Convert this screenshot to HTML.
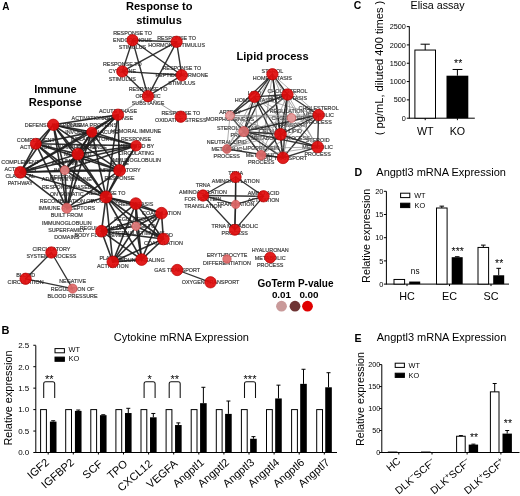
<!DOCTYPE html>
<html><head><meta charset="utf-8"><style>
html,body{margin:0;padding:0;background:#fff;}
svg{display:block;font-family:"Liberation Sans", sans-serif;filter:blur(0.35px);}
</style></head><body>
<svg width="520" height="496" viewBox="0 0 520 496">
<rect width="520" height="496" fill="#fff"/>
<text x="132.50" y="35.00" font-size="5.4" text-anchor="middle" font-weight="normal" fill="#333" stroke="#444" stroke-width="0.18">RESPONSE TO</text>
<text x="132.50" y="42.20" font-size="5.4" text-anchor="middle" font-weight="normal" fill="#333" stroke="#444" stroke-width="0.18">ENDOGENOUS</text>
<text x="132.50" y="49.40" font-size="5.4" text-anchor="middle" font-weight="normal" fill="#333" stroke="#444" stroke-width="0.18">STIMULUS</text>
<text x="176.60" y="40.20" font-size="5.4" text-anchor="middle" font-weight="normal" fill="#333" stroke="#444" stroke-width="0.18">RESPONSE TO</text>
<text x="176.60" y="47.40" font-size="5.4" text-anchor="middle" font-weight="normal" fill="#333" stroke="#444" stroke-width="0.18">HORMONE STIMULUS</text>
<text x="122.30" y="66.20" font-size="5.4" text-anchor="middle" font-weight="normal" fill="#333" stroke="#444" stroke-width="0.18">RESPONSE TO</text>
<text x="122.30" y="73.40" font-size="5.4" text-anchor="middle" font-weight="normal" fill="#333" stroke="#444" stroke-width="0.18">CYTOKINE</text>
<text x="122.30" y="80.60" font-size="5.4" text-anchor="middle" font-weight="normal" fill="#333" stroke="#444" stroke-width="0.18">STIMULUS</text>
<text x="181.80" y="70.10" font-size="5.4" text-anchor="middle" font-weight="normal" fill="#333" stroke="#444" stroke-width="0.18">RESPONSE TO</text>
<text x="181.80" y="77.30" font-size="5.4" text-anchor="middle" font-weight="normal" fill="#333" stroke="#444" stroke-width="0.18">PEPTIDE HORMONE</text>
<text x="181.80" y="84.50" font-size="5.4" text-anchor="middle" font-weight="normal" fill="#333" stroke="#444" stroke-width="0.18">STIMULUS</text>
<text x="148.00" y="91.00" font-size="5.4" text-anchor="middle" font-weight="normal" fill="#333" stroke="#444" stroke-width="0.18">RESPONSE TO</text>
<text x="148.00" y="98.20" font-size="5.4" text-anchor="middle" font-weight="normal" fill="#333" stroke="#444" stroke-width="0.18">ORGANIC</text>
<text x="148.00" y="105.40" font-size="5.4" text-anchor="middle" font-weight="normal" fill="#333" stroke="#444" stroke-width="0.18">SUBSTANCE</text>
<text x="180.80" y="115.10" font-size="5.4" text-anchor="middle" font-weight="normal" fill="#333" stroke="#444" stroke-width="0.18">RESPONSE TO</text>
<text x="180.80" y="122.30" font-size="5.4" text-anchor="middle" font-weight="normal" fill="#333" stroke="#444" stroke-width="0.18">OXIDATIVE STRESS</text>
<text x="118.00" y="113.10" font-size="5.4" text-anchor="middle" font-weight="normal" fill="#333" stroke="#444" stroke-width="0.18">ACUTE PHASE</text>
<text x="118.00" y="120.30" font-size="5.4" text-anchor="middle" font-weight="normal" fill="#333" stroke="#444" stroke-width="0.18">RESPONSE</text>
<text x="53.30" y="126.80" font-size="5.4" text-anchor="middle" font-weight="normal" fill="#333" stroke="#444" stroke-width="0.18">DEFENSE RESPONSE</text>
<text x="91.80" y="119.70" font-size="5.4" text-anchor="middle" font-weight="normal" fill="#333" stroke="#444" stroke-width="0.18">ACTIVATION OF</text>
<text x="91.80" y="126.90" font-size="5.4" text-anchor="middle" font-weight="normal" fill="#333" stroke="#444" stroke-width="0.18">PLASMA PROTEINS</text>
<text x="91.80" y="134.10" font-size="5.4" text-anchor="middle" font-weight="normal" fill="#333" stroke="#444" stroke-width="0.18">INVOLVED IN ACUTE</text>
<text x="91.80" y="141.30" font-size="5.4" text-anchor="middle" font-weight="normal" fill="#333" stroke="#444" stroke-width="0.18">INFLAMMATORY</text>
<text x="91.80" y="148.50" font-size="5.4" text-anchor="middle" font-weight="normal" fill="#333" stroke="#444" stroke-width="0.18">RESPONSE</text>
<text x="136.10" y="133.30" font-size="5.4" text-anchor="middle" font-weight="normal" fill="#333" stroke="#444" stroke-width="0.18">HUMORAL IMMUNE</text>
<text x="136.10" y="140.50" font-size="5.4" text-anchor="middle" font-weight="normal" fill="#333" stroke="#444" stroke-width="0.18">RESPONSE</text>
<text x="136.10" y="147.70" font-size="5.4" text-anchor="middle" font-weight="normal" fill="#333" stroke="#444" stroke-width="0.18">MEDIATED BY</text>
<text x="136.10" y="154.90" font-size="5.4" text-anchor="middle" font-weight="normal" fill="#333" stroke="#444" stroke-width="0.18">CIRCULATING</text>
<text x="136.10" y="162.10" font-size="5.4" text-anchor="middle" font-weight="normal" fill="#333" stroke="#444" stroke-width="0.18">IMMUNOGLOBULIN</text>
<text x="35.80" y="142.20" font-size="5.4" text-anchor="middle" font-weight="normal" fill="#333" stroke="#444" stroke-width="0.18">COMPLEMENT</text>
<text x="35.80" y="149.40" font-size="5.4" text-anchor="middle" font-weight="normal" fill="#333" stroke="#444" stroke-width="0.18">ACTIVATION</text>
<text x="77.80" y="148.90" font-size="5.4" text-anchor="middle" font-weight="normal" fill="#333" stroke="#444" stroke-width="0.18">LYMPHOCYTE</text>
<text x="77.80" y="156.10" font-size="5.4" text-anchor="middle" font-weight="normal" fill="#333" stroke="#444" stroke-width="0.18">MEDIATED</text>
<text x="77.80" y="163.30" font-size="5.4" text-anchor="middle" font-weight="normal" fill="#333" stroke="#444" stroke-width="0.18">IMMUNITY</text>
<text x="20.30" y="163.50" font-size="5.4" text-anchor="middle" font-weight="normal" fill="#333" stroke="#444" stroke-width="0.18">COMPLEMENT</text>
<text x="20.30" y="170.70" font-size="5.4" text-anchor="middle" font-weight="normal" fill="#333" stroke="#444" stroke-width="0.18">ACTIVATION</text>
<text x="20.30" y="177.90" font-size="5.4" text-anchor="middle" font-weight="normal" fill="#333" stroke="#444" stroke-width="0.18">CLASSICAL</text>
<text x="20.30" y="185.10" font-size="5.4" text-anchor="middle" font-weight="normal" fill="#333" stroke="#444" stroke-width="0.18">PATHWAY</text>
<text x="64.80" y="165.00" font-size="5.4" text-anchor="middle" font-weight="normal" fill="#333" stroke="#444" stroke-width="0.18">ADAPTIVE</text>
<text x="64.80" y="172.20" font-size="5.4" text-anchor="middle" font-weight="normal" fill="#333" stroke="#444" stroke-width="0.18">IMMUNE</text>
<text x="64.80" y="179.40" font-size="5.4" text-anchor="middle" font-weight="normal" fill="#333" stroke="#444" stroke-width="0.18">RESPONSE</text>
<text x="119.60" y="165.20" font-size="5.4" text-anchor="middle" font-weight="normal" fill="#333" stroke="#444" stroke-width="0.18">ACUTE</text>
<text x="119.60" y="172.40" font-size="5.4" text-anchor="middle" font-weight="normal" fill="#333" stroke="#444" stroke-width="0.18">INFLAMMATORY</text>
<text x="119.60" y="179.60" font-size="5.4" text-anchor="middle" font-weight="normal" fill="#333" stroke="#444" stroke-width="0.18">RESPONSE</text>
<text x="106.00" y="195.40" font-size="5.4" text-anchor="middle" font-weight="normal" fill="#333" stroke="#444" stroke-width="0.18">RESPONSE TO</text>
<text x="106.00" y="202.60" font-size="5.4" text-anchor="middle" font-weight="normal" fill="#333" stroke="#444" stroke-width="0.18">WOUNDING</text>
<text x="66.80" y="181.40" font-size="5.4" text-anchor="middle" font-weight="normal" fill="#333" stroke="#444" stroke-width="0.18">ADAPTIVE IMMUNE</text>
<text x="66.80" y="188.60" font-size="5.4" text-anchor="middle" font-weight="normal" fill="#333" stroke="#444" stroke-width="0.18">RESPONSE BASED</text>
<text x="66.80" y="195.80" font-size="5.4" text-anchor="middle" font-weight="normal" fill="#333" stroke="#444" stroke-width="0.18">ON SOMATIC</text>
<text x="66.80" y="203.00" font-size="5.4" text-anchor="middle" font-weight="normal" fill="#333" stroke="#444" stroke-width="0.18">RECOMBINATION OF</text>
<text x="66.80" y="210.20" font-size="5.4" text-anchor="middle" font-weight="normal" fill="#333" stroke="#444" stroke-width="0.18">IMMUNE RECEPTORS</text>
<text x="66.80" y="217.40" font-size="5.4" text-anchor="middle" font-weight="normal" fill="#333" stroke="#444" stroke-width="0.18">BUILT FROM</text>
<text x="66.80" y="224.60" font-size="5.4" text-anchor="middle" font-weight="normal" fill="#333" stroke="#444" stroke-width="0.18">IMMUNOGLOBULIN</text>
<text x="66.80" y="231.80" font-size="5.4" text-anchor="middle" font-weight="normal" fill="#333" stroke="#444" stroke-width="0.18">SUPERFAMILY</text>
<text x="66.80" y="239.00" font-size="5.4" text-anchor="middle" font-weight="normal" fill="#333" stroke="#444" stroke-width="0.18">DOMAINS</text>
<text x="135.80" y="205.60" font-size="5.4" text-anchor="middle" font-weight="normal" fill="#333" stroke="#444" stroke-width="0.18">HEMOSTASIS</text>
<text x="161.50" y="215.20" font-size="5.4" text-anchor="middle" font-weight="normal" fill="#333" stroke="#444" stroke-width="0.18">COAGULATION</text>
<text x="136.00" y="221.00" font-size="5.4" text-anchor="middle" font-weight="normal" fill="#333" stroke="#444" stroke-width="0.18">REGULATION OF</text>
<text x="136.00" y="228.20" font-size="5.4" text-anchor="middle" font-weight="normal" fill="#333" stroke="#444" stroke-width="0.18">RESPONSE TO</text>
<text x="136.00" y="235.40" font-size="5.4" text-anchor="middle" font-weight="normal" fill="#333" stroke="#444" stroke-width="0.18">EXTERNAL STIMULUS</text>
<text x="101.50" y="229.60" font-size="5.4" text-anchor="middle" font-weight="normal" fill="#333" stroke="#444" stroke-width="0.18">REGULATION OF</text>
<text x="101.50" y="236.80" font-size="5.4" text-anchor="middle" font-weight="normal" fill="#333" stroke="#444" stroke-width="0.18">BODY FLUID LEVELS</text>
<text x="163.40" y="237.40" font-size="5.4" text-anchor="middle" font-weight="normal" fill="#333" stroke="#444" stroke-width="0.18">BLOOD</text>
<text x="163.40" y="244.60" font-size="5.4" text-anchor="middle" font-weight="normal" fill="#333" stroke="#444" stroke-width="0.18">COAGULATION</text>
<text x="112.80" y="260.30" font-size="5.4" text-anchor="middle" font-weight="normal" fill="#333" stroke="#444" stroke-width="0.18">PLATELET</text>
<text x="112.80" y="267.50" font-size="5.4" text-anchor="middle" font-weight="normal" fill="#333" stroke="#444" stroke-width="0.18">ACTIVATION</text>
<text x="141.60" y="261.60" font-size="5.4" text-anchor="middle" font-weight="normal" fill="#333" stroke="#444" stroke-width="0.18">WOUND HEALING</text>
<text x="51.40" y="250.90" font-size="5.4" text-anchor="middle" font-weight="normal" fill="#333" stroke="#444" stroke-width="0.18">CIRCULATORY</text>
<text x="51.40" y="258.10" font-size="5.4" text-anchor="middle" font-weight="normal" fill="#333" stroke="#444" stroke-width="0.18">SYSTEM PROCESS</text>
<text x="25.60" y="277.20" font-size="5.4" text-anchor="middle" font-weight="normal" fill="#333" stroke="#444" stroke-width="0.18">BLOOD</text>
<text x="25.60" y="284.40" font-size="5.4" text-anchor="middle" font-weight="normal" fill="#333" stroke="#444" stroke-width="0.18">CIRCULATION</text>
<text x="72.60" y="283.40" font-size="5.4" text-anchor="middle" font-weight="normal" fill="#333" stroke="#444" stroke-width="0.18">NEGATIVE</text>
<text x="72.60" y="290.60" font-size="5.4" text-anchor="middle" font-weight="normal" fill="#333" stroke="#444" stroke-width="0.18">REGULATION OF</text>
<text x="72.60" y="297.80" font-size="5.4" text-anchor="middle" font-weight="normal" fill="#333" stroke="#444" stroke-width="0.18">BLOOD PRESSURE</text>
<text x="177.20" y="272.00" font-size="5.4" text-anchor="middle" font-weight="normal" fill="#333" stroke="#444" stroke-width="0.18">GAS TRANSPORT</text>
<text x="210.50" y="284.30" font-size="5.4" text-anchor="middle" font-weight="normal" fill="#333" stroke="#444" stroke-width="0.18">OXYGEN TRANSPORT</text>
<text x="272.40" y="72.60" font-size="5.4" text-anchor="middle" font-weight="normal" fill="#333" stroke="#444" stroke-width="0.18">STEROL</text>
<text x="272.40" y="79.80" font-size="5.4" text-anchor="middle" font-weight="normal" fill="#333" stroke="#444" stroke-width="0.18">HOMEOSTASIS</text>
<text x="254.40" y="95.20" font-size="5.4" text-anchor="middle" font-weight="normal" fill="#333" stroke="#444" stroke-width="0.18">LIPID</text>
<text x="254.40" y="102.40" font-size="5.4" text-anchor="middle" font-weight="normal" fill="#333" stroke="#444" stroke-width="0.18">HOMEOSTASIS</text>
<text x="287.50" y="92.90" font-size="5.4" text-anchor="middle" font-weight="normal" fill="#333" stroke="#444" stroke-width="0.18">CHOLESTEROL</text>
<text x="287.50" y="100.10" font-size="5.4" text-anchor="middle" font-weight="normal" fill="#333" stroke="#444" stroke-width="0.18">HOMEOSTASIS</text>
<text x="230.00" y="114.00" font-size="5.4" text-anchor="middle" font-weight="normal" fill="#333" stroke="#444" stroke-width="0.18">ARTERY</text>
<text x="230.00" y="121.20" font-size="5.4" text-anchor="middle" font-weight="normal" fill="#333" stroke="#444" stroke-width="0.18">MORPHOGENESIS</text>
<text x="291.50" y="112.80" font-size="5.4" text-anchor="middle" font-weight="normal" fill="#333" stroke="#444" stroke-width="0.18">REGULATION OF</text>
<text x="291.50" y="120.00" font-size="5.4" text-anchor="middle" font-weight="normal" fill="#333" stroke="#444" stroke-width="0.18">CHOLESTEROL</text>
<text x="291.50" y="127.20" font-size="5.4" text-anchor="middle" font-weight="normal" fill="#333" stroke="#444" stroke-width="0.18">TRANSPORT</text>
<text x="318.60" y="109.80" font-size="5.4" text-anchor="middle" font-weight="normal" fill="#333" stroke="#444" stroke-width="0.18">CHOLESTEROL</text>
<text x="318.60" y="117.00" font-size="5.4" text-anchor="middle" font-weight="normal" fill="#333" stroke="#444" stroke-width="0.18">METABOLIC</text>
<text x="318.60" y="124.20" font-size="5.4" text-anchor="middle" font-weight="normal" fill="#333" stroke="#444" stroke-width="0.18">PROCESS</text>
<text x="243.70" y="130.00" font-size="5.4" text-anchor="middle" font-weight="normal" fill="#333" stroke="#444" stroke-width="0.18">STEROL METABOLIC</text>
<text x="243.70" y="137.20" font-size="5.4" text-anchor="middle" font-weight="normal" fill="#333" stroke="#444" stroke-width="0.18">PROCESS</text>
<text x="280.50" y="132.70" font-size="5.4" text-anchor="middle" font-weight="normal" fill="#333" stroke="#444" stroke-width="0.18">CELLULAR LIPID</text>
<text x="280.50" y="139.90" font-size="5.4" text-anchor="middle" font-weight="normal" fill="#333" stroke="#444" stroke-width="0.18">METABOLIC PROCESS</text>
<text x="317.60" y="141.80" font-size="5.4" text-anchor="middle" font-weight="normal" fill="#333" stroke="#444" stroke-width="0.18">STEROID</text>
<text x="317.60" y="149.00" font-size="5.4" text-anchor="middle" font-weight="normal" fill="#333" stroke="#444" stroke-width="0.18">METABOLIC</text>
<text x="317.60" y="156.20" font-size="5.4" text-anchor="middle" font-weight="normal" fill="#333" stroke="#444" stroke-width="0.18">PROCESS</text>
<text x="226.80" y="143.80" font-size="5.4" text-anchor="middle" font-weight="normal" fill="#333" stroke="#444" stroke-width="0.18">NEUTRAL LIPID</text>
<text x="226.80" y="151.00" font-size="5.4" text-anchor="middle" font-weight="normal" fill="#333" stroke="#444" stroke-width="0.18">METABOLIC</text>
<text x="226.80" y="158.20" font-size="5.4" text-anchor="middle" font-weight="normal" fill="#333" stroke="#444" stroke-width="0.18">PROCESS</text>
<text x="261.10" y="150.00" font-size="5.4" text-anchor="middle" font-weight="normal" fill="#333" stroke="#444" stroke-width="0.18">LIPOPROTEIN</text>
<text x="261.10" y="157.20" font-size="5.4" text-anchor="middle" font-weight="normal" fill="#333" stroke="#444" stroke-width="0.18">METABOLIC</text>
<text x="261.10" y="164.40" font-size="5.4" text-anchor="middle" font-weight="normal" fill="#333" stroke="#444" stroke-width="0.18">PROCESS</text>
<text x="283.00" y="159.80" font-size="5.4" text-anchor="middle" font-weight="normal" fill="#333" stroke="#444" stroke-width="0.18">LIPID TRANSPORT</text>
<text x="235.70" y="175.40" font-size="5.4" text-anchor="middle" font-weight="normal" fill="#333" stroke="#444" stroke-width="0.18">TRNA</text>
<text x="235.70" y="182.60" font-size="5.4" text-anchor="middle" font-weight="normal" fill="#333" stroke="#444" stroke-width="0.18">AMINOACYLATION</text>
<text x="203.00" y="186.70" font-size="5.4" text-anchor="middle" font-weight="normal" fill="#333" stroke="#444" stroke-width="0.18">TRNA</text>
<text x="203.00" y="193.90" font-size="5.4" text-anchor="middle" font-weight="normal" fill="#333" stroke="#444" stroke-width="0.18">AMINOACYLATION</text>
<text x="203.00" y="201.10" font-size="5.4" text-anchor="middle" font-weight="normal" fill="#333" stroke="#444" stroke-width="0.18">FOR PROTEIN</text>
<text x="203.00" y="208.30" font-size="5.4" text-anchor="middle" font-weight="normal" fill="#333" stroke="#444" stroke-width="0.18">TRANSLATION</text>
<text x="263.50" y="194.70" font-size="5.4" text-anchor="middle" font-weight="normal" fill="#333" stroke="#444" stroke-width="0.18">AMINO ACID</text>
<text x="263.50" y="201.90" font-size="5.4" text-anchor="middle" font-weight="normal" fill="#333" stroke="#444" stroke-width="0.18">ACTIVATION</text>
<text x="235.70" y="206.40" font-size="5.4" text-anchor="middle" font-weight="normal" fill="#333" stroke="#444" stroke-width="0.18">TRANSLATION</text>
<text x="234.80" y="228.20" font-size="5.4" text-anchor="middle" font-weight="normal" fill="#333" stroke="#444" stroke-width="0.18">TRNA METABOLIC</text>
<text x="234.80" y="235.40" font-size="5.4" text-anchor="middle" font-weight="normal" fill="#333" stroke="#444" stroke-width="0.18">PROCESS</text>
<text x="227.00" y="257.40" font-size="5.4" text-anchor="middle" font-weight="normal" fill="#333" stroke="#444" stroke-width="0.18">ERYTHROCYTE</text>
<text x="227.00" y="264.60" font-size="5.4" text-anchor="middle" font-weight="normal" fill="#333" stroke="#444" stroke-width="0.18">DIFFERENTIATION</text>
<text x="270.20" y="252.30" font-size="5.4" text-anchor="middle" font-weight="normal" fill="#333" stroke="#444" stroke-width="0.18">HYALURONAN</text>
<text x="270.20" y="259.50" font-size="5.4" text-anchor="middle" font-weight="normal" fill="#333" stroke="#444" stroke-width="0.18">METABOLIC</text>
<text x="270.20" y="266.70" font-size="5.4" text-anchor="middle" font-weight="normal" fill="#333" stroke="#444" stroke-width="0.18">PROCESS</text>
<line x1="132.50" y1="40.20" x2="176.60" y2="41.80" stroke="#222" stroke-width="1.4" stroke-linecap="round" opacity="0.92"/>
<line x1="132.50" y1="40.20" x2="122.30" y2="71.40" stroke="#222" stroke-width="1.4" stroke-linecap="round" opacity="0.92"/>
<line x1="132.50" y1="40.20" x2="181.80" y2="75.30" stroke="#222" stroke-width="1.4" stroke-linecap="round" opacity="0.92"/>
<line x1="132.50" y1="40.20" x2="148.00" y2="96.20" stroke="#222" stroke-width="1.4" stroke-linecap="round" opacity="0.92"/>
<line x1="176.60" y1="41.80" x2="122.30" y2="71.40" stroke="#222" stroke-width="1.4" stroke-linecap="round" opacity="0.92"/>
<line x1="176.60" y1="41.80" x2="181.80" y2="75.30" stroke="#222" stroke-width="1.4" stroke-linecap="round" opacity="0.92"/>
<line x1="176.60" y1="41.80" x2="148.00" y2="96.20" stroke="#222" stroke-width="1.4" stroke-linecap="round" opacity="0.92"/>
<line x1="122.30" y1="71.40" x2="181.80" y2="75.30" stroke="#222" stroke-width="1.4" stroke-linecap="round" opacity="0.92"/>
<line x1="122.30" y1="71.40" x2="148.00" y2="96.20" stroke="#222" stroke-width="1.4" stroke-linecap="round" opacity="0.92"/>
<line x1="181.80" y1="75.30" x2="148.00" y2="96.20" stroke="#222" stroke-width="1.4" stroke-linecap="round" opacity="0.92"/>
<line x1="148.00" y1="96.20" x2="180.80" y2="116.70" stroke="#777" stroke-width="0.8" stroke-linecap="round" opacity="0.92"/>
<line x1="148.00" y1="96.20" x2="118.00" y2="114.70" stroke="#777" stroke-width="0.8" stroke-linecap="round" opacity="0.92"/>
<line x1="118.00" y1="114.70" x2="53.30" y2="124.80" stroke="#1e1e1e" stroke-width="1.6" stroke-linecap="round" opacity="0.92"/>
<line x1="118.00" y1="114.70" x2="91.80" y2="132.10" stroke="#1e1e1e" stroke-width="1.6" stroke-linecap="round" opacity="0.92"/>
<line x1="118.00" y1="114.70" x2="77.80" y2="154.10" stroke="#1e1e1e" stroke-width="1.6" stroke-linecap="round" opacity="0.92"/>
<line x1="118.00" y1="114.70" x2="20.30" y2="172.30" stroke="#1e1e1e" stroke-width="1.6" stroke-linecap="round" opacity="0.92"/>
<line x1="118.00" y1="114.70" x2="64.80" y2="170.20" stroke="#1e1e1e" stroke-width="1.6" stroke-linecap="round" opacity="0.92"/>
<line x1="118.00" y1="114.70" x2="119.60" y2="170.40" stroke="#1e1e1e" stroke-width="1.6" stroke-linecap="round" opacity="0.92"/>
<line x1="118.00" y1="114.70" x2="106.00" y2="197.00" stroke="#1e1e1e" stroke-width="1.6" stroke-linecap="round" opacity="0.92"/>
<line x1="53.30" y1="124.80" x2="91.80" y2="132.10" stroke="#1e1e1e" stroke-width="1.6" stroke-linecap="round" opacity="0.92"/>
<line x1="53.30" y1="124.80" x2="136.10" y2="145.70" stroke="#1e1e1e" stroke-width="1.6" stroke-linecap="round" opacity="0.92"/>
<line x1="53.30" y1="124.80" x2="35.80" y2="143.80" stroke="#1e1e1e" stroke-width="1.6" stroke-linecap="round" opacity="0.92"/>
<line x1="53.30" y1="124.80" x2="77.80" y2="154.10" stroke="#1e1e1e" stroke-width="1.6" stroke-linecap="round" opacity="0.92"/>
<line x1="53.30" y1="124.80" x2="20.30" y2="172.30" stroke="#1e1e1e" stroke-width="1.6" stroke-linecap="round" opacity="0.92"/>
<line x1="53.30" y1="124.80" x2="64.80" y2="170.20" stroke="#1e1e1e" stroke-width="1.6" stroke-linecap="round" opacity="0.92"/>
<line x1="53.30" y1="124.80" x2="119.60" y2="170.40" stroke="#1e1e1e" stroke-width="1.6" stroke-linecap="round" opacity="0.92"/>
<line x1="53.30" y1="124.80" x2="106.00" y2="197.00" stroke="#1e1e1e" stroke-width="1.6" stroke-linecap="round" opacity="0.92"/>
<line x1="53.30" y1="124.80" x2="66.80" y2="208.20" stroke="#1e1e1e" stroke-width="1.6" stroke-linecap="round" opacity="0.92"/>
<line x1="91.80" y1="132.10" x2="136.10" y2="145.70" stroke="#1e1e1e" stroke-width="1.6" stroke-linecap="round" opacity="0.92"/>
<line x1="91.80" y1="132.10" x2="35.80" y2="143.80" stroke="#1e1e1e" stroke-width="1.6" stroke-linecap="round" opacity="0.92"/>
<line x1="91.80" y1="132.10" x2="77.80" y2="154.10" stroke="#1e1e1e" stroke-width="1.6" stroke-linecap="round" opacity="0.92"/>
<line x1="91.80" y1="132.10" x2="20.30" y2="172.30" stroke="#1e1e1e" stroke-width="1.6" stroke-linecap="round" opacity="0.92"/>
<line x1="91.80" y1="132.10" x2="64.80" y2="170.20" stroke="#1e1e1e" stroke-width="1.6" stroke-linecap="round" opacity="0.92"/>
<line x1="91.80" y1="132.10" x2="119.60" y2="170.40" stroke="#1e1e1e" stroke-width="1.6" stroke-linecap="round" opacity="0.92"/>
<line x1="91.80" y1="132.10" x2="106.00" y2="197.00" stroke="#1e1e1e" stroke-width="1.6" stroke-linecap="round" opacity="0.92"/>
<line x1="91.80" y1="132.10" x2="66.80" y2="208.20" stroke="#1e1e1e" stroke-width="1.6" stroke-linecap="round" opacity="0.92"/>
<line x1="136.10" y1="145.70" x2="35.80" y2="143.80" stroke="#1e1e1e" stroke-width="1.6" stroke-linecap="round" opacity="0.92"/>
<line x1="136.10" y1="145.70" x2="77.80" y2="154.10" stroke="#1e1e1e" stroke-width="1.6" stroke-linecap="round" opacity="0.92"/>
<line x1="136.10" y1="145.70" x2="20.30" y2="172.30" stroke="#1e1e1e" stroke-width="1.6" stroke-linecap="round" opacity="0.92"/>
<line x1="136.10" y1="145.70" x2="64.80" y2="170.20" stroke="#1e1e1e" stroke-width="1.6" stroke-linecap="round" opacity="0.92"/>
<line x1="136.10" y1="145.70" x2="119.60" y2="170.40" stroke="#1e1e1e" stroke-width="1.6" stroke-linecap="round" opacity="0.92"/>
<line x1="136.10" y1="145.70" x2="106.00" y2="197.00" stroke="#1e1e1e" stroke-width="1.6" stroke-linecap="round" opacity="0.92"/>
<line x1="35.80" y1="143.80" x2="77.80" y2="154.10" stroke="#1e1e1e" stroke-width="1.6" stroke-linecap="round" opacity="0.92"/>
<line x1="35.80" y1="143.80" x2="20.30" y2="172.30" stroke="#1e1e1e" stroke-width="1.6" stroke-linecap="round" opacity="0.92"/>
<line x1="35.80" y1="143.80" x2="64.80" y2="170.20" stroke="#1e1e1e" stroke-width="1.6" stroke-linecap="round" opacity="0.92"/>
<line x1="35.80" y1="143.80" x2="119.60" y2="170.40" stroke="#1e1e1e" stroke-width="1.6" stroke-linecap="round" opacity="0.92"/>
<line x1="35.80" y1="143.80" x2="106.00" y2="197.00" stroke="#1e1e1e" stroke-width="1.6" stroke-linecap="round" opacity="0.92"/>
<line x1="35.80" y1="143.80" x2="66.80" y2="208.20" stroke="#1e1e1e" stroke-width="1.6" stroke-linecap="round" opacity="0.92"/>
<line x1="77.80" y1="154.10" x2="20.30" y2="172.30" stroke="#1e1e1e" stroke-width="1.6" stroke-linecap="round" opacity="0.92"/>
<line x1="77.80" y1="154.10" x2="64.80" y2="170.20" stroke="#1e1e1e" stroke-width="1.6" stroke-linecap="round" opacity="0.92"/>
<line x1="77.80" y1="154.10" x2="119.60" y2="170.40" stroke="#1e1e1e" stroke-width="1.6" stroke-linecap="round" opacity="0.92"/>
<line x1="77.80" y1="154.10" x2="106.00" y2="197.00" stroke="#1e1e1e" stroke-width="1.6" stroke-linecap="round" opacity="0.92"/>
<line x1="77.80" y1="154.10" x2="66.80" y2="208.20" stroke="#1e1e1e" stroke-width="1.6" stroke-linecap="round" opacity="0.92"/>
<line x1="20.30" y1="172.30" x2="64.80" y2="170.20" stroke="#1e1e1e" stroke-width="1.6" stroke-linecap="round" opacity="0.92"/>
<line x1="20.30" y1="172.30" x2="119.60" y2="170.40" stroke="#1e1e1e" stroke-width="1.6" stroke-linecap="round" opacity="0.92"/>
<line x1="20.30" y1="172.30" x2="106.00" y2="197.00" stroke="#1e1e1e" stroke-width="1.6" stroke-linecap="round" opacity="0.92"/>
<line x1="20.30" y1="172.30" x2="66.80" y2="208.20" stroke="#1e1e1e" stroke-width="1.6" stroke-linecap="round" opacity="0.92"/>
<line x1="64.80" y1="170.20" x2="119.60" y2="170.40" stroke="#1e1e1e" stroke-width="1.6" stroke-linecap="round" opacity="0.92"/>
<line x1="64.80" y1="170.20" x2="106.00" y2="197.00" stroke="#1e1e1e" stroke-width="1.6" stroke-linecap="round" opacity="0.92"/>
<line x1="64.80" y1="170.20" x2="66.80" y2="208.20" stroke="#1e1e1e" stroke-width="1.6" stroke-linecap="round" opacity="0.92"/>
<line x1="119.60" y1="170.40" x2="106.00" y2="197.00" stroke="#1e1e1e" stroke-width="1.6" stroke-linecap="round" opacity="0.92"/>
<line x1="119.60" y1="170.40" x2="66.80" y2="208.20" stroke="#1e1e1e" stroke-width="1.6" stroke-linecap="round" opacity="0.92"/>
<line x1="106.00" y1="197.00" x2="66.80" y2="208.20" stroke="#1e1e1e" stroke-width="1.6" stroke-linecap="round" opacity="0.92"/>
<line x1="106.00" y1="197.00" x2="135.80" y2="203.60" stroke="#1e1e1e" stroke-width="1.6" stroke-linecap="round" opacity="0.92"/>
<line x1="106.00" y1="197.00" x2="161.50" y2="213.20" stroke="#1e1e1e" stroke-width="1.6" stroke-linecap="round" opacity="0.92"/>
<line x1="106.00" y1="197.00" x2="136.00" y2="226.20" stroke="#1e1e1e" stroke-width="1.6" stroke-linecap="round" opacity="0.92"/>
<line x1="106.00" y1="197.00" x2="101.50" y2="231.20" stroke="#1e1e1e" stroke-width="1.6" stroke-linecap="round" opacity="0.92"/>
<line x1="106.00" y1="197.00" x2="163.40" y2="239.00" stroke="#1e1e1e" stroke-width="1.6" stroke-linecap="round" opacity="0.92"/>
<line x1="106.00" y1="197.00" x2="112.80" y2="261.90" stroke="#1e1e1e" stroke-width="1.6" stroke-linecap="round" opacity="0.92"/>
<line x1="106.00" y1="197.00" x2="141.60" y2="259.60" stroke="#1e1e1e" stroke-width="1.6" stroke-linecap="round" opacity="0.92"/>
<line x1="135.80" y1="203.60" x2="161.50" y2="213.20" stroke="#1e1e1e" stroke-width="1.6" stroke-linecap="round" opacity="0.92"/>
<line x1="135.80" y1="203.60" x2="136.00" y2="226.20" stroke="#1e1e1e" stroke-width="1.6" stroke-linecap="round" opacity="0.92"/>
<line x1="135.80" y1="203.60" x2="101.50" y2="231.20" stroke="#1e1e1e" stroke-width="1.6" stroke-linecap="round" opacity="0.92"/>
<line x1="135.80" y1="203.60" x2="163.40" y2="239.00" stroke="#1e1e1e" stroke-width="1.6" stroke-linecap="round" opacity="0.92"/>
<line x1="135.80" y1="203.60" x2="112.80" y2="261.90" stroke="#1e1e1e" stroke-width="1.6" stroke-linecap="round" opacity="0.92"/>
<line x1="135.80" y1="203.60" x2="141.60" y2="259.60" stroke="#1e1e1e" stroke-width="1.6" stroke-linecap="round" opacity="0.92"/>
<line x1="161.50" y1="213.20" x2="136.00" y2="226.20" stroke="#1e1e1e" stroke-width="1.6" stroke-linecap="round" opacity="0.92"/>
<line x1="161.50" y1="213.20" x2="101.50" y2="231.20" stroke="#1e1e1e" stroke-width="1.6" stroke-linecap="round" opacity="0.92"/>
<line x1="161.50" y1="213.20" x2="163.40" y2="239.00" stroke="#1e1e1e" stroke-width="1.6" stroke-linecap="round" opacity="0.92"/>
<line x1="161.50" y1="213.20" x2="112.80" y2="261.90" stroke="#1e1e1e" stroke-width="1.6" stroke-linecap="round" opacity="0.92"/>
<line x1="161.50" y1="213.20" x2="141.60" y2="259.60" stroke="#1e1e1e" stroke-width="1.6" stroke-linecap="round" opacity="0.92"/>
<line x1="136.00" y1="226.20" x2="101.50" y2="231.20" stroke="#1e1e1e" stroke-width="1.6" stroke-linecap="round" opacity="0.92"/>
<line x1="136.00" y1="226.20" x2="163.40" y2="239.00" stroke="#1e1e1e" stroke-width="1.6" stroke-linecap="round" opacity="0.92"/>
<line x1="136.00" y1="226.20" x2="112.80" y2="261.90" stroke="#1e1e1e" stroke-width="1.6" stroke-linecap="round" opacity="0.92"/>
<line x1="136.00" y1="226.20" x2="141.60" y2="259.60" stroke="#1e1e1e" stroke-width="1.6" stroke-linecap="round" opacity="0.92"/>
<line x1="101.50" y1="231.20" x2="163.40" y2="239.00" stroke="#1e1e1e" stroke-width="1.6" stroke-linecap="round" opacity="0.92"/>
<line x1="101.50" y1="231.20" x2="112.80" y2="261.90" stroke="#1e1e1e" stroke-width="1.6" stroke-linecap="round" opacity="0.92"/>
<line x1="101.50" y1="231.20" x2="141.60" y2="259.60" stroke="#1e1e1e" stroke-width="1.6" stroke-linecap="round" opacity="0.92"/>
<line x1="163.40" y1="239.00" x2="112.80" y2="261.90" stroke="#1e1e1e" stroke-width="1.6" stroke-linecap="round" opacity="0.92"/>
<line x1="163.40" y1="239.00" x2="141.60" y2="259.60" stroke="#1e1e1e" stroke-width="1.6" stroke-linecap="round" opacity="0.92"/>
<line x1="112.80" y1="261.90" x2="141.60" y2="259.60" stroke="#1e1e1e" stroke-width="1.6" stroke-linecap="round" opacity="0.92"/>
<line x1="51.40" y1="252.50" x2="25.60" y2="278.80" stroke="#222" stroke-width="1.3" stroke-linecap="round" opacity="0.92"/>
<line x1="51.40" y1="252.50" x2="72.60" y2="288.60" stroke="#222" stroke-width="1.3" stroke-linecap="round" opacity="0.92"/>
<line x1="25.60" y1="278.80" x2="72.60" y2="288.60" stroke="#222" stroke-width="1.3" stroke-linecap="round" opacity="0.92"/>
<line x1="177.20" y1="270.00" x2="210.50" y2="282.30" stroke="#222" stroke-width="1.3" stroke-linecap="round" opacity="0.92"/>
<line x1="272.40" y1="74.20" x2="254.40" y2="96.80" stroke="#262626" stroke-width="1.35" stroke-linecap="round" opacity="0.92"/>
<line x1="272.40" y1="74.20" x2="287.50" y2="94.50" stroke="#262626" stroke-width="1.35" stroke-linecap="round" opacity="0.92"/>
<line x1="272.40" y1="74.20" x2="230.00" y2="115.60" stroke="#262626" stroke-width="1.35" stroke-linecap="round" opacity="0.92"/>
<line x1="272.40" y1="74.20" x2="291.50" y2="118.00" stroke="#8a8a8a" stroke-width="0.75" stroke-linecap="round" opacity="0.92"/>
<line x1="272.40" y1="74.20" x2="318.60" y2="115.00" stroke="#8a8a8a" stroke-width="0.75" stroke-linecap="round" opacity="0.92"/>
<line x1="272.40" y1="74.20" x2="243.70" y2="131.60" stroke="#262626" stroke-width="1.35" stroke-linecap="round" opacity="0.92"/>
<line x1="272.40" y1="74.20" x2="280.50" y2="134.30" stroke="#262626" stroke-width="1.35" stroke-linecap="round" opacity="0.92"/>
<line x1="272.40" y1="74.20" x2="317.60" y2="147.00" stroke="#8a8a8a" stroke-width="0.75" stroke-linecap="round" opacity="0.92"/>
<line x1="272.40" y1="74.20" x2="226.80" y2="149.00" stroke="#8a8a8a" stroke-width="0.75" stroke-linecap="round" opacity="0.92"/>
<line x1="272.40" y1="74.20" x2="261.10" y2="155.20" stroke="#8a8a8a" stroke-width="0.75" stroke-linecap="round" opacity="0.92"/>
<line x1="272.40" y1="74.20" x2="283.00" y2="157.80" stroke="#262626" stroke-width="1.35" stroke-linecap="round" opacity="0.92"/>
<line x1="254.40" y1="96.80" x2="287.50" y2="94.50" stroke="#262626" stroke-width="1.35" stroke-linecap="round" opacity="0.92"/>
<line x1="254.40" y1="96.80" x2="230.00" y2="115.60" stroke="#262626" stroke-width="1.35" stroke-linecap="round" opacity="0.92"/>
<line x1="254.40" y1="96.80" x2="291.50" y2="118.00" stroke="#8a8a8a" stroke-width="0.75" stroke-linecap="round" opacity="0.92"/>
<line x1="254.40" y1="96.80" x2="318.60" y2="115.00" stroke="#8a8a8a" stroke-width="0.75" stroke-linecap="round" opacity="0.92"/>
<line x1="254.40" y1="96.80" x2="243.70" y2="131.60" stroke="#262626" stroke-width="1.35" stroke-linecap="round" opacity="0.92"/>
<line x1="254.40" y1="96.80" x2="280.50" y2="134.30" stroke="#262626" stroke-width="1.35" stroke-linecap="round" opacity="0.92"/>
<line x1="254.40" y1="96.80" x2="317.60" y2="147.00" stroke="#8a8a8a" stroke-width="0.75" stroke-linecap="round" opacity="0.92"/>
<line x1="254.40" y1="96.80" x2="226.80" y2="149.00" stroke="#8a8a8a" stroke-width="0.75" stroke-linecap="round" opacity="0.92"/>
<line x1="254.40" y1="96.80" x2="261.10" y2="155.20" stroke="#8a8a8a" stroke-width="0.75" stroke-linecap="round" opacity="0.92"/>
<line x1="254.40" y1="96.80" x2="283.00" y2="157.80" stroke="#262626" stroke-width="1.35" stroke-linecap="round" opacity="0.92"/>
<line x1="287.50" y1="94.50" x2="230.00" y2="115.60" stroke="#262626" stroke-width="1.35" stroke-linecap="round" opacity="0.92"/>
<line x1="287.50" y1="94.50" x2="291.50" y2="118.00" stroke="#8a8a8a" stroke-width="0.75" stroke-linecap="round" opacity="0.92"/>
<line x1="287.50" y1="94.50" x2="318.60" y2="115.00" stroke="#262626" stroke-width="1.35" stroke-linecap="round" opacity="0.92"/>
<line x1="287.50" y1="94.50" x2="243.70" y2="131.60" stroke="#262626" stroke-width="1.35" stroke-linecap="round" opacity="0.92"/>
<line x1="287.50" y1="94.50" x2="280.50" y2="134.30" stroke="#262626" stroke-width="1.35" stroke-linecap="round" opacity="0.92"/>
<line x1="287.50" y1="94.50" x2="317.60" y2="147.00" stroke="#8a8a8a" stroke-width="0.75" stroke-linecap="round" opacity="0.92"/>
<line x1="287.50" y1="94.50" x2="226.80" y2="149.00" stroke="#8a8a8a" stroke-width="0.75" stroke-linecap="round" opacity="0.92"/>
<line x1="287.50" y1="94.50" x2="261.10" y2="155.20" stroke="#8a8a8a" stroke-width="0.75" stroke-linecap="round" opacity="0.92"/>
<line x1="287.50" y1="94.50" x2="283.00" y2="157.80" stroke="#262626" stroke-width="1.35" stroke-linecap="round" opacity="0.92"/>
<line x1="230.00" y1="115.60" x2="291.50" y2="118.00" stroke="#8a8a8a" stroke-width="0.75" stroke-linecap="round" opacity="0.92"/>
<line x1="230.00" y1="115.60" x2="318.60" y2="115.00" stroke="#8a8a8a" stroke-width="0.75" stroke-linecap="round" opacity="0.92"/>
<line x1="230.00" y1="115.60" x2="243.70" y2="131.60" stroke="#262626" stroke-width="1.35" stroke-linecap="round" opacity="0.92"/>
<line x1="230.00" y1="115.60" x2="280.50" y2="134.30" stroke="#8a8a8a" stroke-width="0.75" stroke-linecap="round" opacity="0.92"/>
<line x1="230.00" y1="115.60" x2="317.60" y2="147.00" stroke="#8a8a8a" stroke-width="0.75" stroke-linecap="round" opacity="0.92"/>
<line x1="230.00" y1="115.60" x2="226.80" y2="149.00" stroke="#8a8a8a" stroke-width="0.75" stroke-linecap="round" opacity="0.92"/>
<line x1="230.00" y1="115.60" x2="261.10" y2="155.20" stroke="#8a8a8a" stroke-width="0.75" stroke-linecap="round" opacity="0.92"/>
<line x1="230.00" y1="115.60" x2="283.00" y2="157.80" stroke="#8a8a8a" stroke-width="0.75" stroke-linecap="round" opacity="0.92"/>
<line x1="291.50" y1="118.00" x2="318.60" y2="115.00" stroke="#8a8a8a" stroke-width="0.75" stroke-linecap="round" opacity="0.92"/>
<line x1="291.50" y1="118.00" x2="243.70" y2="131.60" stroke="#8a8a8a" stroke-width="0.75" stroke-linecap="round" opacity="0.92"/>
<line x1="291.50" y1="118.00" x2="280.50" y2="134.30" stroke="#8a8a8a" stroke-width="0.75" stroke-linecap="round" opacity="0.92"/>
<line x1="291.50" y1="118.00" x2="317.60" y2="147.00" stroke="#8a8a8a" stroke-width="0.75" stroke-linecap="round" opacity="0.92"/>
<line x1="291.50" y1="118.00" x2="226.80" y2="149.00" stroke="#8a8a8a" stroke-width="0.75" stroke-linecap="round" opacity="0.92"/>
<line x1="291.50" y1="118.00" x2="261.10" y2="155.20" stroke="#8a8a8a" stroke-width="0.75" stroke-linecap="round" opacity="0.92"/>
<line x1="291.50" y1="118.00" x2="283.00" y2="157.80" stroke="#8a8a8a" stroke-width="0.75" stroke-linecap="round" opacity="0.92"/>
<line x1="318.60" y1="115.00" x2="243.70" y2="131.60" stroke="#262626" stroke-width="1.35" stroke-linecap="round" opacity="0.92"/>
<line x1="318.60" y1="115.00" x2="280.50" y2="134.30" stroke="#262626" stroke-width="1.35" stroke-linecap="round" opacity="0.92"/>
<line x1="318.60" y1="115.00" x2="317.60" y2="147.00" stroke="#262626" stroke-width="1.35" stroke-linecap="round" opacity="0.92"/>
<line x1="318.60" y1="115.00" x2="226.80" y2="149.00" stroke="#8a8a8a" stroke-width="0.75" stroke-linecap="round" opacity="0.92"/>
<line x1="318.60" y1="115.00" x2="261.10" y2="155.20" stroke="#8a8a8a" stroke-width="0.75" stroke-linecap="round" opacity="0.92"/>
<line x1="318.60" y1="115.00" x2="283.00" y2="157.80" stroke="#262626" stroke-width="1.35" stroke-linecap="round" opacity="0.92"/>
<line x1="243.70" y1="131.60" x2="280.50" y2="134.30" stroke="#262626" stroke-width="1.35" stroke-linecap="round" opacity="0.92"/>
<line x1="243.70" y1="131.60" x2="317.60" y2="147.00" stroke="#262626" stroke-width="1.35" stroke-linecap="round" opacity="0.92"/>
<line x1="243.70" y1="131.60" x2="226.80" y2="149.00" stroke="#262626" stroke-width="1.35" stroke-linecap="round" opacity="0.92"/>
<line x1="243.70" y1="131.60" x2="261.10" y2="155.20" stroke="#262626" stroke-width="1.35" stroke-linecap="round" opacity="0.92"/>
<line x1="243.70" y1="131.60" x2="283.00" y2="157.80" stroke="#262626" stroke-width="1.35" stroke-linecap="round" opacity="0.92"/>
<line x1="280.50" y1="134.30" x2="317.60" y2="147.00" stroke="#262626" stroke-width="1.35" stroke-linecap="round" opacity="0.92"/>
<line x1="280.50" y1="134.30" x2="226.80" y2="149.00" stroke="#8a8a8a" stroke-width="0.75" stroke-linecap="round" opacity="0.92"/>
<line x1="280.50" y1="134.30" x2="261.10" y2="155.20" stroke="#262626" stroke-width="1.35" stroke-linecap="round" opacity="0.92"/>
<line x1="280.50" y1="134.30" x2="283.00" y2="157.80" stroke="#262626" stroke-width="1.35" stroke-linecap="round" opacity="0.92"/>
<line x1="317.60" y1="147.00" x2="226.80" y2="149.00" stroke="#8a8a8a" stroke-width="0.75" stroke-linecap="round" opacity="0.92"/>
<line x1="317.60" y1="147.00" x2="261.10" y2="155.20" stroke="#8a8a8a" stroke-width="0.75" stroke-linecap="round" opacity="0.92"/>
<line x1="317.60" y1="147.00" x2="283.00" y2="157.80" stroke="#262626" stroke-width="1.35" stroke-linecap="round" opacity="0.92"/>
<line x1="226.80" y1="149.00" x2="261.10" y2="155.20" stroke="#8a8a8a" stroke-width="0.75" stroke-linecap="round" opacity="0.92"/>
<line x1="226.80" y1="149.00" x2="283.00" y2="157.80" stroke="#262626" stroke-width="1.35" stroke-linecap="round" opacity="0.92"/>
<line x1="261.10" y1="155.20" x2="283.00" y2="157.80" stroke="#262626" stroke-width="1.35" stroke-linecap="round" opacity="0.92"/>
<line x1="235.70" y1="177.00" x2="203.00" y2="195.50" stroke="#222" stroke-width="1.3" stroke-linecap="round" opacity="0.92"/>
<line x1="235.70" y1="177.00" x2="263.50" y2="196.30" stroke="#222" stroke-width="1.3" stroke-linecap="round" opacity="0.92"/>
<line x1="235.70" y1="177.00" x2="235.70" y2="204.40" stroke="#222" stroke-width="1.3" stroke-linecap="round" opacity="0.92"/>
<line x1="235.70" y1="177.00" x2="234.80" y2="229.80" stroke="#222" stroke-width="1.3" stroke-linecap="round" opacity="0.92"/>
<line x1="203.00" y1="195.50" x2="263.50" y2="196.30" stroke="#222" stroke-width="1.3" stroke-linecap="round" opacity="0.92"/>
<line x1="203.00" y1="195.50" x2="235.70" y2="204.40" stroke="#222" stroke-width="1.3" stroke-linecap="round" opacity="0.92"/>
<line x1="203.00" y1="195.50" x2="234.80" y2="229.80" stroke="#222" stroke-width="1.3" stroke-linecap="round" opacity="0.92"/>
<line x1="263.50" y1="196.30" x2="235.70" y2="204.40" stroke="#222" stroke-width="1.3" stroke-linecap="round" opacity="0.92"/>
<line x1="263.50" y1="196.30" x2="234.80" y2="229.80" stroke="#222" stroke-width="1.3" stroke-linecap="round" opacity="0.92"/>
<line x1="235.70" y1="204.40" x2="234.80" y2="229.80" stroke="#222" stroke-width="1.3" stroke-linecap="round" opacity="0.92"/>
<circle cx="132.5" cy="40.2" r="5.68" fill="#e00c0c" stroke="#b80000" stroke-width="0.7" fill-opacity="0.93"/>
<circle cx="176.6" cy="41.8" r="5.68" fill="#e00c0c" stroke="#b80000" stroke-width="0.7" fill-opacity="0.93"/>
<circle cx="122.3" cy="71.4" r="5.68" fill="#e00c0c" stroke="#b80000" stroke-width="0.7" fill-opacity="0.93"/>
<circle cx="181.8" cy="75.3" r="5.68" fill="#e00c0c" stroke="#b80000" stroke-width="0.7" fill-opacity="0.93"/>
<circle cx="148" cy="96.2" r="5.68" fill="#e00c0c" stroke="#b80000" stroke-width="0.7" fill-opacity="0.93"/>
<circle cx="180.8" cy="116.7" r="5.68" fill="#e00c0c" stroke="#b80000" stroke-width="0.7" fill-opacity="0.93"/>
<circle cx="118" cy="114.7" r="5.68" fill="#e00c0c" stroke="#b80000" stroke-width="0.7" fill-opacity="0.93"/>
<circle cx="53.3" cy="124.8" r="5.68" fill="#e00c0c" stroke="#b80000" stroke-width="0.7" fill-opacity="0.93"/>
<circle cx="91.8" cy="132.1" r="5.13" fill="#e00c0c" stroke="#b80000" stroke-width="0.7" fill-opacity="0.93"/>
<circle cx="136.1" cy="145.7" r="5.32" fill="#e00c0c" stroke="#b80000" stroke-width="0.7" fill-opacity="0.93"/>
<circle cx="35.8" cy="143.8" r="5.5" fill="#e00c0c" stroke="#b80000" stroke-width="0.7" fill-opacity="0.93"/>
<circle cx="77.8" cy="154.1" r="5.87" fill="#e00c0c" stroke="#b80000" stroke-width="0.7" fill-opacity="0.93"/>
<circle cx="20.3" cy="172.3" r="5.87" fill="#e00c0c" stroke="#b80000" stroke-width="0.7" fill-opacity="0.93"/>
<circle cx="64.8" cy="170.2" r="4.4" fill="#e48080" stroke="#c85050" stroke-width="0.7" fill-opacity="0.93"/>
<circle cx="119.6" cy="170.4" r="5.87" fill="#e00c0c" stroke="#b80000" stroke-width="0.7" fill-opacity="0.93"/>
<circle cx="106" cy="197" r="6.05" fill="#e00c0c" stroke="#b80000" stroke-width="0.7" fill-opacity="0.93"/>
<circle cx="66.8" cy="208.2" r="5.0" fill="#e06868" stroke="#c85050" stroke-width="0.7" fill-opacity="0.93"/>
<circle cx="135.8" cy="203.6" r="5.87" fill="#e00c0c" stroke="#b80000" stroke-width="0.7" fill-opacity="0.93"/>
<circle cx="161.5" cy="213.2" r="5.87" fill="#e00c0c" stroke="#b80000" stroke-width="0.7" fill-opacity="0.93"/>
<circle cx="136" cy="226.2" r="4.2" fill="#e48080" stroke="#c85050" stroke-width="0.7" fill-opacity="0.93"/>
<circle cx="101.5" cy="231.2" r="5.87" fill="#e00c0c" stroke="#b80000" stroke-width="0.7" fill-opacity="0.93"/>
<circle cx="163.4" cy="239.0" r="5.87" fill="#e00c0c" stroke="#b80000" stroke-width="0.7" fill-opacity="0.93"/>
<circle cx="112.8" cy="261.9" r="5.87" fill="#e00c0c" stroke="#b80000" stroke-width="0.7" fill-opacity="0.93"/>
<circle cx="141.6" cy="259.6" r="5.87" fill="#e00c0c" stroke="#b80000" stroke-width="0.7" fill-opacity="0.93"/>
<circle cx="51.4" cy="252.5" r="5.68" fill="#e00c0c" stroke="#b80000" stroke-width="0.7" fill-opacity="0.93"/>
<circle cx="25.6" cy="278.8" r="5.68" fill="#e00c0c" stroke="#b80000" stroke-width="0.7" fill-opacity="0.93"/>
<circle cx="72.6" cy="288.6" r="4.6" fill="#e06868" stroke="#c85050" stroke-width="0.7" fill-opacity="0.93"/>
<circle cx="177.2" cy="270.0" r="5.68" fill="#e00c0c" stroke="#b80000" stroke-width="0.7" fill-opacity="0.93"/>
<circle cx="210.5" cy="282.3" r="5.68" fill="#e00c0c" stroke="#b80000" stroke-width="0.7" fill-opacity="0.93"/>
<circle cx="272.4" cy="74.2" r="5.68" fill="#e00c0c" stroke="#b80000" stroke-width="0.7" fill-opacity="0.93"/>
<circle cx="254.4" cy="96.8" r="5.68" fill="#e00c0c" stroke="#b80000" stroke-width="0.7" fill-opacity="0.93"/>
<circle cx="287.5" cy="94.5" r="5.68" fill="#e00c0c" stroke="#b80000" stroke-width="0.7" fill-opacity="0.93"/>
<circle cx="230" cy="115.6" r="4.4" fill="#e89a9a" stroke="#c85050" stroke-width="0.7" fill-opacity="0.93"/>
<circle cx="291.5" cy="118" r="4.4" fill="#e89a9a" stroke="#c85050" stroke-width="0.7" fill-opacity="0.93"/>
<circle cx="318.6" cy="115" r="5.68" fill="#e00c0c" stroke="#b80000" stroke-width="0.7" fill-opacity="0.93"/>
<circle cx="243.7" cy="131.6" r="5.0" fill="#dc7070" stroke="#c85050" stroke-width="0.7" fill-opacity="0.93"/>
<circle cx="280.5" cy="134.3" r="5.87" fill="#e00c0c" stroke="#b80000" stroke-width="0.7" fill-opacity="0.93"/>
<circle cx="317.6" cy="147" r="5.87" fill="#e00c0c" stroke="#b80000" stroke-width="0.7" fill-opacity="0.93"/>
<circle cx="226.8" cy="149" r="4.4" fill="#cc6060" stroke="#c85050" stroke-width="0.7" fill-opacity="0.93"/>
<circle cx="261.1" cy="155.2" r="4.8" fill="#e06868" stroke="#c85050" stroke-width="0.7" fill-opacity="0.93"/>
<circle cx="283" cy="157.8" r="5.87" fill="#e00c0c" stroke="#b80000" stroke-width="0.7" fill-opacity="0.93"/>
<circle cx="235.7" cy="177.0" r="5.5" fill="#e00c0c" stroke="#b80000" stroke-width="0.7" fill-opacity="0.93"/>
<circle cx="203" cy="195.5" r="5.68" fill="#e00c0c" stroke="#b80000" stroke-width="0.7" fill-opacity="0.93"/>
<circle cx="263.5" cy="196.3" r="5.68" fill="#e00c0c" stroke="#b80000" stroke-width="0.7" fill-opacity="0.93"/>
<circle cx="235.7" cy="204.4" r="4.2" fill="#e06868" stroke="#c85050" stroke-width="0.7" fill-opacity="0.93"/>
<circle cx="234.8" cy="229.8" r="5.5" fill="#e00c0c" stroke="#b80000" stroke-width="0.7" fill-opacity="0.93"/>
<circle cx="227" cy="259" r="4.2" fill="#e06868" stroke="#c85050" stroke-width="0.7" fill-opacity="0.93"/>
<circle cx="270.2" cy="257.5" r="5.5" fill="#e00c0c" stroke="#b80000" stroke-width="0.7" fill-opacity="0.93"/>
<text x="159.20" y="10.40" font-size="11.1" text-anchor="middle" font-weight="bold" fill="#000" >Response to</text>
<text x="159.00" y="23.60" font-size="11.1" text-anchor="middle" font-weight="bold" fill="#000" >stimulus</text>
<text x="272.60" y="59.90" font-size="11.1" text-anchor="middle" font-weight="bold" fill="#000" >Lipid process</text>
<text x="55.40" y="93.40" font-size="11.1" text-anchor="middle" font-weight="bold" fill="#000" >Immune</text>
<text x="55.30" y="106.40" font-size="11.1" text-anchor="middle" font-weight="bold" fill="#000" >Response</text>
<text x="2.20" y="9.60" font-size="10" text-anchor="start" font-weight="bold" fill="#000" >A</text>
<text x="295.50" y="287.00" font-size="10" text-anchor="middle" font-weight="bold" fill="#000" >GoTerm P-value</text>
<text x="281.50" y="298.30" font-size="9.9" text-anchor="middle" font-weight="bold" fill="#000" >0.01</text>
<text x="309.00" y="298.30" font-size="9.9" text-anchor="middle" font-weight="bold" fill="#000" >0.00</text>
<circle cx="281.5" cy="306.2" r="5.4" fill="#c99a9a"/>
<circle cx="295" cy="306.2" r="5.4" fill="#6e3434"/>
<circle cx="307.5" cy="306.2" r="5.4" fill="#e00000"/>
<text x="1.40" y="333.50" font-size="11" text-anchor="start" font-weight="bold" fill="#000" >B</text>
<text x="113.80" y="340.50" font-size="11" text-anchor="start" font-weight="normal" fill="#000" >Cytokine mRNA Expression</text>
<line x1="35.80" y1="345.50" x2="35.80" y2="453.00" stroke="#000" stroke-width="1" />
<line x1="35.80" y1="452.50" x2="337.00" y2="452.50" stroke="#000" stroke-width="1" />
<line x1="33.30" y1="452.50" x2="35.80" y2="452.50" stroke="#000" stroke-width="1" />
<text x="29.30" y="455.30" font-size="8" text-anchor="end" font-weight="normal" fill="#000" >0.0</text>
<line x1="33.30" y1="431.05" x2="35.80" y2="431.05" stroke="#000" stroke-width="1" />
<text x="29.30" y="433.85" font-size="8" text-anchor="end" font-weight="normal" fill="#000" >0.5</text>
<line x1="33.30" y1="409.60" x2="35.80" y2="409.60" stroke="#000" stroke-width="1" />
<text x="29.30" y="412.40" font-size="8" text-anchor="end" font-weight="normal" fill="#000" >1.0</text>
<line x1="33.30" y1="388.15" x2="35.80" y2="388.15" stroke="#000" stroke-width="1" />
<text x="29.30" y="390.95" font-size="8" text-anchor="end" font-weight="normal" fill="#000" >1.5</text>
<line x1="33.30" y1="366.70" x2="35.80" y2="366.70" stroke="#000" stroke-width="1" />
<text x="29.30" y="369.50" font-size="8" text-anchor="end" font-weight="normal" fill="#000" >2.0</text>
<line x1="33.30" y1="345.25" x2="35.80" y2="345.25" stroke="#000" stroke-width="1" />
<text x="29.30" y="348.05" font-size="8" text-anchor="end" font-weight="normal" fill="#000" >2.5</text>
<text transform="translate(11.8,398) rotate(-90)" font-size="10.9" text-anchor="middle">Relative expression</text>
<rect x="55.00" y="348.60" width="9.40" height="4.20" fill="#fff" stroke="#000" stroke-width="1"/>
<text x="68.60" y="352.20" font-size="7.4" text-anchor="start" font-weight="normal" fill="#000" >WT</text>
<rect x="55.00" y="357.10" width="9.40" height="4.20" fill="#000" stroke="#000" stroke-width="1"/>
<text x="68.60" y="361.00" font-size="7.4" text-anchor="start" font-weight="normal" fill="#000" >KO</text>
<rect x="40.60" y="409.60" width="5.80" height="42.90" fill="#fff" stroke="#000" stroke-width="1"/>
<rect x="49.90" y="421.61" width="6.6" height="30.89" fill="#000"/>
<line x1="53.20" y1="421.61" x2="53.20" y2="420.75" stroke="#000" stroke-width="1" />
<line x1="51.20" y1="420.75" x2="55.20" y2="420.75" stroke="#000" stroke-width="1" />
<line x1="48.20" y1="452.50" x2="48.20" y2="454.50" stroke="#000" stroke-width="1" />
<text transform="translate(49.80,463.40) rotate(-41)" font-size="11" text-anchor="end">IGF2</text>
<rect x="65.70" y="409.60" width="5.80" height="42.90" fill="#fff" stroke="#000" stroke-width="1"/>
<rect x="74.93" y="410.89" width="6.6" height="41.61" fill="#000"/>
<line x1="78.23" y1="410.89" x2="78.23" y2="410.03" stroke="#000" stroke-width="1" />
<line x1="76.23" y1="410.03" x2="80.23" y2="410.03" stroke="#000" stroke-width="1" />
<line x1="73.30" y1="452.50" x2="73.30" y2="454.50" stroke="#000" stroke-width="1" />
<text transform="translate(74.90,463.40) rotate(-41)" font-size="11" text-anchor="end">IGFBP2</text>
<rect x="90.80" y="409.60" width="5.80" height="42.90" fill="#fff" stroke="#000" stroke-width="1"/>
<rect x="99.96" y="415.18" width="6.6" height="37.32" fill="#000"/>
<line x1="103.26" y1="415.18" x2="103.26" y2="414.75" stroke="#000" stroke-width="1" />
<line x1="101.26" y1="414.75" x2="105.26" y2="414.75" stroke="#000" stroke-width="1" />
<line x1="98.40" y1="452.50" x2="98.40" y2="454.50" stroke="#000" stroke-width="1" />
<text transform="translate(103.20,465.00) rotate(-41)" font-size="11" text-anchor="end">SCF</text>
<rect x="115.90" y="409.60" width="5.80" height="42.90" fill="#fff" stroke="#000" stroke-width="1"/>
<rect x="124.99" y="413.03" width="6.6" height="39.47" fill="#000"/>
<line x1="128.29" y1="413.03" x2="128.29" y2="408.31" stroke="#000" stroke-width="1" />
<line x1="126.29" y1="408.31" x2="130.29" y2="408.31" stroke="#000" stroke-width="1" />
<line x1="123.50" y1="452.50" x2="123.50" y2="454.50" stroke="#000" stroke-width="1" />
<text transform="translate(128.30,465.00) rotate(-41)" font-size="11" text-anchor="end">TPO</text>
<rect x="141.00" y="409.60" width="5.80" height="42.90" fill="#fff" stroke="#000" stroke-width="1"/>
<rect x="150.02" y="417.32" width="6.6" height="35.18" fill="#000"/>
<line x1="153.32" y1="417.32" x2="153.32" y2="413.46" stroke="#000" stroke-width="1" />
<line x1="151.32" y1="413.46" x2="155.32" y2="413.46" stroke="#000" stroke-width="1" />
<line x1="148.60" y1="452.50" x2="148.60" y2="454.50" stroke="#000" stroke-width="1" />
<text transform="translate(153.00,464.70) rotate(-41)" font-size="11" text-anchor="end">CXCL12</text>
<rect x="166.10" y="409.60" width="5.80" height="42.90" fill="#fff" stroke="#000" stroke-width="1"/>
<rect x="175.05" y="425.04" width="6.6" height="27.46" fill="#000"/>
<line x1="178.35" y1="425.04" x2="178.35" y2="422.90" stroke="#000" stroke-width="1" />
<line x1="176.35" y1="422.90" x2="180.35" y2="422.90" stroke="#000" stroke-width="1" />
<line x1="173.70" y1="452.50" x2="173.70" y2="454.50" stroke="#000" stroke-width="1" />
<text transform="translate(178.30,464.80) rotate(-41)" font-size="11" text-anchor="end">VEGFA</text>
<rect x="191.20" y="409.60" width="5.80" height="42.90" fill="#fff" stroke="#000" stroke-width="1"/>
<rect x="200.08" y="403.17" width="6.6" height="49.33" fill="#000"/>
<line x1="203.38" y1="403.17" x2="203.38" y2="387.29" stroke="#000" stroke-width="1" />
<line x1="201.38" y1="387.29" x2="205.38" y2="387.29" stroke="#000" stroke-width="1" />
<line x1="198.80" y1="452.50" x2="198.80" y2="454.50" stroke="#000" stroke-width="1" />
<text transform="translate(204.80,463.40) rotate(-41)" font-size="11" text-anchor="end">Angptl1</text>
<rect x="216.30" y="409.60" width="5.80" height="42.90" fill="#fff" stroke="#000" stroke-width="1"/>
<rect x="225.11" y="413.89" width="6.6" height="38.61" fill="#000"/>
<line x1="228.41" y1="413.89" x2="228.41" y2="401.02" stroke="#000" stroke-width="1" />
<line x1="226.41" y1="401.02" x2="230.41" y2="401.02" stroke="#000" stroke-width="1" />
<line x1="223.90" y1="452.50" x2="223.90" y2="454.50" stroke="#000" stroke-width="1" />
<text transform="translate(229.90,463.40) rotate(-41)" font-size="11" text-anchor="end">Angptl2</text>
<rect x="241.40" y="409.60" width="5.80" height="42.90" fill="#fff" stroke="#000" stroke-width="1"/>
<rect x="250.14" y="438.77" width="6.6" height="13.73" fill="#000"/>
<line x1="253.44" y1="438.77" x2="253.44" y2="436.63" stroke="#000" stroke-width="1" />
<line x1="251.44" y1="436.63" x2="255.44" y2="436.63" stroke="#000" stroke-width="1" />
<line x1="249.00" y1="452.50" x2="249.00" y2="454.50" stroke="#000" stroke-width="1" />
<text transform="translate(255.00,463.40) rotate(-41)" font-size="11" text-anchor="end">Angptl3</text>
<rect x="266.50" y="409.60" width="5.80" height="42.90" fill="#fff" stroke="#000" stroke-width="1"/>
<rect x="275.17" y="398.45" width="6.6" height="54.05" fill="#000"/>
<line x1="278.47" y1="398.45" x2="278.47" y2="385.15" stroke="#000" stroke-width="1" />
<line x1="276.47" y1="385.15" x2="280.47" y2="385.15" stroke="#000" stroke-width="1" />
<line x1="274.10" y1="452.50" x2="274.10" y2="454.50" stroke="#000" stroke-width="1" />
<text transform="translate(280.10,463.40) rotate(-41)" font-size="11" text-anchor="end">Angptl4</text>
<rect x="291.60" y="409.60" width="5.80" height="42.90" fill="#fff" stroke="#000" stroke-width="1"/>
<rect x="300.20" y="383.86" width="6.6" height="68.64" fill="#000"/>
<line x1="303.50" y1="383.86" x2="303.50" y2="369.27" stroke="#000" stroke-width="1" />
<line x1="301.50" y1="369.27" x2="305.50" y2="369.27" stroke="#000" stroke-width="1" />
<line x1="299.20" y1="452.50" x2="299.20" y2="454.50" stroke="#000" stroke-width="1" />
<text transform="translate(305.20,463.40) rotate(-41)" font-size="11" text-anchor="end">Angptl6</text>
<rect x="316.70" y="409.60" width="5.80" height="42.90" fill="#fff" stroke="#000" stroke-width="1"/>
<rect x="325.23" y="387.29" width="6.6" height="65.21" fill="#000"/>
<line x1="328.53" y1="387.29" x2="328.53" y2="372.71" stroke="#000" stroke-width="1" />
<line x1="326.53" y1="372.71" x2="330.53" y2="372.71" stroke="#000" stroke-width="1" />
<line x1="324.30" y1="452.50" x2="324.30" y2="454.50" stroke="#000" stroke-width="1" />
<text transform="translate(330.30,463.40) rotate(-41)" font-size="11" text-anchor="end">Angptl7</text>
<path d="M43.7,398 L43.7,383.8 Q43.7,381.8 45.7,381.8 L52.7,381.8 Q54.7,381.8 54.7,383.8 L54.7,398" fill="none" stroke="#111" stroke-width="1.05"/>
<text x="49.20" y="383.40" font-size="11" text-anchor="middle" font-weight="normal" fill="#000" >**</text>
<path d="M144.10000000000002,398 L144.10000000000002,383.8 Q144.10000000000002,381.8 146.10000000000002,381.8 L153.10000000000002,381.8 Q155.10000000000002,381.8 155.10000000000002,383.8 L155.10000000000002,398" fill="none" stroke="#111" stroke-width="1.05"/>
<text x="149.60" y="383.40" font-size="11" text-anchor="middle" font-weight="normal" fill="#000" >*</text>
<path d="M169.2,398 L169.2,383.8 Q169.2,381.8 171.2,381.8 L178.2,381.8 Q180.2,381.8 180.2,383.8 L180.2,398" fill="none" stroke="#111" stroke-width="1.05"/>
<text x="174.70" y="383.40" font-size="11" text-anchor="middle" font-weight="normal" fill="#000" >**</text>
<path d="M244.5,398 L244.5,383.8 Q244.5,381.8 246.5,381.8 L253.5,381.8 Q255.5,381.8 255.5,383.8 L255.5,398" fill="none" stroke="#111" stroke-width="1.05"/>
<text x="250.00" y="383.40" font-size="11" text-anchor="middle" font-weight="normal" fill="#000" >***</text>
<text x="353.80" y="8.60" font-size="10.4" text-anchor="start" font-weight="bold" fill="#000" >C</text>
<text x="410.60" y="9.20" font-size="10.7" text-anchor="start" font-weight="normal" fill="#000" >Elisa assay</text>
<line x1="409.30" y1="26.30" x2="409.30" y2="118.70" stroke="#000" stroke-width="1" />
<line x1="409.30" y1="118.20" x2="474.80" y2="118.20" stroke="#000" stroke-width="1" />
<line x1="406.80" y1="118.20" x2="409.30" y2="118.20" stroke="#000" stroke-width="1" />
<text x="405.90" y="120.80" font-size="7.3" text-anchor="end" font-weight="normal" fill="#000" >0</text>
<line x1="406.80" y1="99.88" x2="409.30" y2="99.88" stroke="#000" stroke-width="1" />
<text x="405.90" y="102.48" font-size="7.3" text-anchor="end" font-weight="normal" fill="#000" >500</text>
<line x1="406.80" y1="81.56" x2="409.30" y2="81.56" stroke="#000" stroke-width="1" />
<text x="405.90" y="84.16" font-size="7.3" text-anchor="end" font-weight="normal" fill="#000" >1000</text>
<line x1="406.80" y1="63.24" x2="409.30" y2="63.24" stroke="#000" stroke-width="1" />
<text x="405.90" y="65.84" font-size="7.3" text-anchor="end" font-weight="normal" fill="#000" >1500</text>
<line x1="406.80" y1="44.92" x2="409.30" y2="44.92" stroke="#000" stroke-width="1" />
<text x="405.90" y="47.52" font-size="7.3" text-anchor="end" font-weight="normal" fill="#000" >2000</text>
<line x1="406.80" y1="26.60" x2="409.30" y2="26.60" stroke="#000" stroke-width="1" />
<text x="405.90" y="29.20" font-size="7.3" text-anchor="end" font-weight="normal" fill="#000" >2500</text>
<text transform="translate(383.3,68) rotate(-90)" font-size="11.1" text-anchor="middle">( pg/mL, diluted 400 times )</text>
<rect x="414.90" y="50.05" width="20.60" height="68.15" fill="#fff" stroke="#000" stroke-width="1"/>
<line x1="425.20" y1="50.05" x2="425.20" y2="44.19" stroke="#000" stroke-width="1" />
<line x1="420.60" y1="44.19" x2="429.80" y2="44.19" stroke="#000" stroke-width="1" />
<rect x="446.5" y="75.70" width="21.8" height="42.50" fill="#000"/>
<line x1="457.40" y1="75.70" x2="457.40" y2="69.47" stroke="#000" stroke-width="1" />
<line x1="452.60" y1="69.47" x2="462.40" y2="69.47" stroke="#000" stroke-width="1" />
<text x="458.20" y="67.00" font-size="10.5" text-anchor="middle" font-weight="normal" fill="#000" >**</text>
<line x1="425.20" y1="118.20" x2="425.20" y2="120.20" stroke="#000" stroke-width="1" />
<line x1="457.40" y1="118.20" x2="457.40" y2="120.20" stroke="#000" stroke-width="1" />
<text x="425.20" y="135.00" font-size="10.7" text-anchor="middle" font-weight="normal" fill="#000" >WT</text>
<text x="457.40" y="135.00" font-size="10.7" text-anchor="middle" font-weight="normal" fill="#000" >KO</text>
<text x="354.60" y="175.60" font-size="10.6" text-anchor="start" font-weight="bold" fill="#000" >D</text>
<text x="376.30" y="176.00" font-size="11" text-anchor="start" font-weight="normal" fill="#000" >Angptl3 mRNA Expression</text>
<line x1="386.40" y1="191.30" x2="386.40" y2="284.60" stroke="#000" stroke-width="1" />
<line x1="386.40" y1="284.10" x2="509.00" y2="284.10" stroke="#000" stroke-width="1" />
<line x1="383.90" y1="284.10" x2="386.40" y2="284.10" stroke="#000" stroke-width="1" />
<text x="383.40" y="286.70" font-size="7.4" text-anchor="end" font-weight="normal" fill="#000" >0</text>
<line x1="383.90" y1="260.90" x2="386.40" y2="260.90" stroke="#000" stroke-width="1" />
<text x="383.40" y="263.50" font-size="7.4" text-anchor="end" font-weight="normal" fill="#000" >5</text>
<line x1="383.90" y1="237.70" x2="386.40" y2="237.70" stroke="#000" stroke-width="1" />
<text x="383.40" y="240.30" font-size="7.4" text-anchor="end" font-weight="normal" fill="#000" >10</text>
<line x1="383.90" y1="214.50" x2="386.40" y2="214.50" stroke="#000" stroke-width="1" />
<text x="383.40" y="217.10" font-size="7.4" text-anchor="end" font-weight="normal" fill="#000" >15</text>
<line x1="383.90" y1="191.30" x2="386.40" y2="191.30" stroke="#000" stroke-width="1" />
<text x="383.40" y="193.90" font-size="7.4" text-anchor="end" font-weight="normal" fill="#000" >20</text>
<text transform="translate(370.2,235.8) rotate(-90)" font-size="10.8" text-anchor="middle">Relative expression</text>
<rect x="400.60" y="193.20" width="9.20" height="4.40" fill="#fff" stroke="#000" stroke-width="1"/>
<text x="414.20" y="197.90" font-size="7.3" text-anchor="start" font-weight="normal" fill="#000" >WT</text>
<rect x="400.60" y="203.20" width="9.20" height="4.40" fill="#000" stroke="#000" stroke-width="1"/>
<text x="414.60" y="207.70" font-size="7.3" text-anchor="start" font-weight="normal" fill="#000" >KO</text>
<rect x="394.00" y="279.46" width="10.60" height="4.64" fill="#fff" stroke="#000" stroke-width="1"/>
<rect x="409.20" y="281.55" width="11" height="2.55" fill="#000"/>
<line x1="407.00" y1="284.10" x2="407.00" y2="286.10" stroke="#000" stroke-width="1" />
<text x="407.00" y="300.00" font-size="10.8" text-anchor="middle" font-weight="normal" fill="#000" >HC</text>
<text x="415.20" y="273.80" font-size="8.2" text-anchor="middle" font-weight="normal" fill="#000" >ns</text>
<rect x="436.50" y="208.00" width="10.60" height="76.10" fill="#fff" stroke="#000" stroke-width="1"/>
<line x1="441.80" y1="208.00" x2="441.80" y2="206.15" stroke="#000" stroke-width="1" />
<line x1="439.50" y1="206.15" x2="444.10" y2="206.15" stroke="#000" stroke-width="1" />
<rect x="451.70" y="257.19" width="11" height="26.91" fill="#000"/>
<line x1="457.20" y1="257.19" x2="457.20" y2="256.72" stroke="#000" stroke-width="1" />
<line x1="454.90" y1="256.72" x2="459.50" y2="256.72" stroke="#000" stroke-width="1" />
<line x1="449.50" y1="284.10" x2="449.50" y2="286.10" stroke="#000" stroke-width="1" />
<text x="449.50" y="300.00" font-size="10.8" text-anchor="middle" font-weight="normal" fill="#000" >EC</text>
<text x="457.70" y="255.32" font-size="10.5" text-anchor="middle" font-weight="normal" fill="#000" >***</text>
<rect x="478.00" y="247.44" width="10.60" height="36.66" fill="#fff" stroke="#000" stroke-width="1"/>
<line x1="483.30" y1="247.44" x2="483.30" y2="245.12" stroke="#000" stroke-width="1" />
<line x1="481.00" y1="245.12" x2="485.60" y2="245.12" stroke="#000" stroke-width="1" />
<rect x="493.20" y="275.28" width="11" height="8.82" fill="#000"/>
<line x1="498.70" y1="275.28" x2="498.70" y2="268.32" stroke="#000" stroke-width="1" />
<line x1="496.40" y1="268.32" x2="501.00" y2="268.32" stroke="#000" stroke-width="1" />
<line x1="491.00" y1="284.10" x2="491.00" y2="286.10" stroke="#000" stroke-width="1" />
<text x="491.00" y="300.00" font-size="10.8" text-anchor="middle" font-weight="normal" fill="#000" >SC</text>
<text x="499.20" y="266.92" font-size="10.5" text-anchor="middle" font-weight="normal" fill="#000" >**</text>
<text x="354.60" y="342.00" font-size="10.6" text-anchor="start" font-weight="bold" fill="#000" >E</text>
<text x="376.70" y="340.60" font-size="11" text-anchor="start" font-weight="normal" fill="#000" >Angptl3 mRNA Expression</text>
<line x1="381.80" y1="364.60" x2="381.80" y2="453.00" stroke="#000" stroke-width="1" />
<line x1="381.80" y1="452.50" x2="519.50" y2="452.50" stroke="#000" stroke-width="1" />
<line x1="379.30" y1="452.50" x2="381.80" y2="452.50" stroke="#000" stroke-width="1" />
<text x="380.20" y="455.10" font-size="7.2" text-anchor="end" font-weight="normal" fill="#000" >0</text>
<line x1="379.30" y1="430.52" x2="381.80" y2="430.52" stroke="#000" stroke-width="1" />
<text x="380.20" y="433.12" font-size="7.2" text-anchor="end" font-weight="normal" fill="#000" >50</text>
<line x1="379.30" y1="408.55" x2="381.80" y2="408.55" stroke="#000" stroke-width="1" />
<text x="380.20" y="411.15" font-size="7.2" text-anchor="end" font-weight="normal" fill="#000" >100</text>
<line x1="379.30" y1="386.58" x2="381.80" y2="386.58" stroke="#000" stroke-width="1" />
<text x="380.20" y="389.18" font-size="7.2" text-anchor="end" font-weight="normal" fill="#000" >150</text>
<line x1="379.30" y1="364.60" x2="381.80" y2="364.60" stroke="#000" stroke-width="1" />
<text x="380.20" y="367.20" font-size="7.2" text-anchor="end" font-weight="normal" fill="#000" >200</text>
<text transform="translate(363.5,399) rotate(-90)" font-size="10.8" text-anchor="middle">Relative expression</text>
<rect x="395.20" y="363.20" width="9.20" height="4.20" fill="#fff" stroke="#000" stroke-width="1"/>
<text x="408.60" y="367.60" font-size="7.3" text-anchor="start" font-weight="normal" fill="#000" >WT</text>
<rect x="395.20" y="373.20" width="9.20" height="4.20" fill="#000" stroke="#000" stroke-width="1"/>
<text x="408.60" y="377.60" font-size="7.3" text-anchor="start" font-weight="normal" fill="#000" >KO</text>
<rect x="388.30" y="452.06" width="8.60" height="0.44" fill="#fff" stroke="#000" stroke-width="1"/>
<rect x="400.40" y="452.28" width="9.4" height="0.22" fill="#000"/>
<line x1="398.80" y1="452.50" x2="398.80" y2="454.50" stroke="#000" stroke-width="1" />
<rect x="421.50" y="452.06" width="8.60" height="0.44" fill="#fff" stroke="#000" stroke-width="1"/>
<rect x="433.60" y="452.28" width="9.4" height="0.22" fill="#000"/>
<line x1="432.00" y1="452.50" x2="432.00" y2="454.50" stroke="#000" stroke-width="1" />
<rect x="456.60" y="436.24" width="8.60" height="16.26" fill="#fff" stroke="#000" stroke-width="1"/>
<line x1="460.90" y1="436.24" x2="460.90" y2="435.58" stroke="#000" stroke-width="1" />
<line x1="458.90" y1="435.58" x2="462.90" y2="435.58" stroke="#000" stroke-width="1" />
<rect x="468.70" y="444.59" width="9.4" height="7.91" fill="#000"/>
<line x1="473.40" y1="444.59" x2="473.40" y2="444.15" stroke="#000" stroke-width="1" />
<line x1="471.40" y1="444.15" x2="475.40" y2="444.15" stroke="#000" stroke-width="1" />
<line x1="467.10" y1="452.50" x2="467.10" y2="454.50" stroke="#000" stroke-width="1" />
<text x="474.10" y="440.95" font-size="10.5" text-anchor="middle" font-weight="normal" fill="#000" >**</text>
<rect x="490.40" y="391.85" width="8.60" height="60.65" fill="#fff" stroke="#000" stroke-width="1"/>
<line x1="494.70" y1="391.85" x2="494.70" y2="383.50" stroke="#000" stroke-width="1" />
<line x1="492.70" y1="383.50" x2="496.70" y2="383.50" stroke="#000" stroke-width="1" />
<rect x="502.50" y="433.60" width="9.4" height="18.90" fill="#000"/>
<line x1="507.20" y1="433.60" x2="507.20" y2="430.52" stroke="#000" stroke-width="1" />
<line x1="505.20" y1="430.52" x2="509.20" y2="430.52" stroke="#000" stroke-width="1" />
<line x1="500.90" y1="452.50" x2="500.90" y2="454.50" stroke="#000" stroke-width="1" />
<text x="507.90" y="427.32" font-size="10.5" text-anchor="middle" font-weight="normal" fill="#000" >**</text>
<text transform="translate(401.30,462.30) rotate(-40)" font-size="10.3" text-anchor="end">HC</text>
<text transform="translate(436.20,463.40) rotate(-40)" font-size="10.3" text-anchor="end">DLK<tspan font-size="7" dy="-4">−</tspan><tspan dy="4">SCF</tspan><tspan font-size="7" dy="-4">−</tspan></text>
<text transform="translate(471.30,463.40) rotate(-40)" font-size="10.3" text-anchor="end">DLK<tspan font-size="7" dy="-4">+</tspan><tspan dy="4">SCF</tspan><tspan font-size="7" dy="-4">−</tspan></text>
<text transform="translate(505.10,463.40) rotate(-40)" font-size="10.3" text-anchor="end">DLK<tspan font-size="7" dy="-4">+</tspan><tspan dy="4">SCF</tspan><tspan font-size="7" dy="-4">+</tspan></text>
</svg></body></html>
